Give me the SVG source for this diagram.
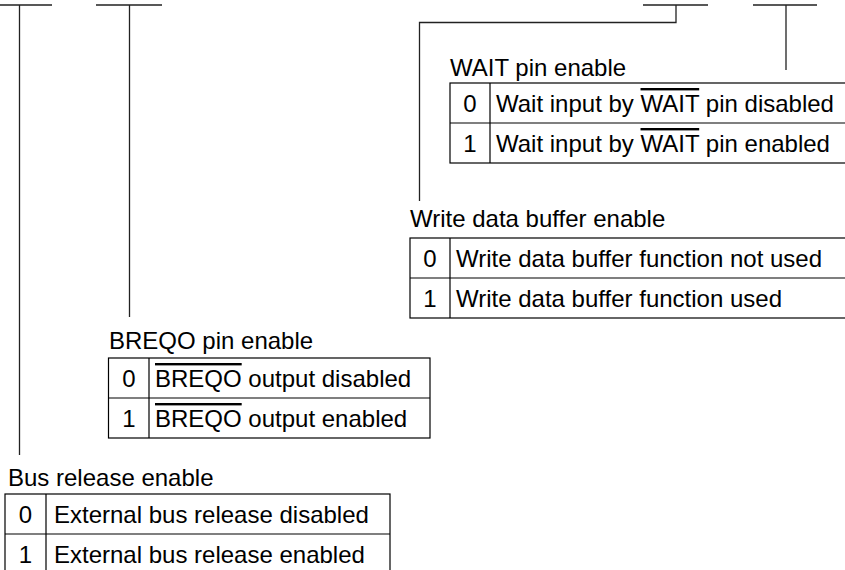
<svg xmlns="http://www.w3.org/2000/svg" width="845" height="570" viewBox="0 0 845 570">
<style>
text{font-family:"Liberation Sans",Arial,sans-serif;font-size:24px;fill:#000}
.n{text-anchor:middle}
.ln{fill:none;stroke:#222;stroke-width:1.3}
.tb{fill:#fff;stroke:#000;stroke-width:1.2}
.ov{text-decoration:overline}
</style>
<rect width="845" height="570" fill="#fff"/>
<g id="connectors">
<path class="ln" d="M0 5H52M19.5 5V455"/>
<path class="ln" d="M96 5H162M129.5 5V317"/>
<path class="ln" d="M643 5H708M676 5V22.5H419.5V201"/>
<path class="ln" d="M753 5H817M786 5V70"/>
</g>
<g id="wait">
<text x="450" y="76">WAIT pin enable</text>
<rect class="tb" x="450" y="83" width="400" height="80"/>
<path class="ln" d="M450 123H850M490 83V163" style="stroke:#000;stroke-width:1.2"/>
<text class="n" x="470" y="112">0</text>
<text x="496" y="112">Wait input by <tspan class="ov">WAIT</tspan> pin disabled</text>
<text class="n" x="470" y="152">1</text>
<text x="496" y="152">Wait input by <tspan class="ov">WAIT</tspan> pin enabled</text>
</g>
<g id="wdb">
<text x="410" y="227">Write data buffer enable</text>
<rect class="tb" x="410" y="238" width="440" height="80"/>
<path class="ln" d="M410 278H850M450 238V318" style="stroke:#000;stroke-width:1.2"/>
<text class="n" x="430" y="267">0</text>
<text x="456" y="267">Write data buffer function not used</text>
<text class="n" x="430" y="307">1</text>
<text x="456" y="307">Write data buffer function used</text>
</g>
<g id="breqo">
<text x="109" y="349">BREQO pin enable</text>
<rect class="tb" x="108.5" y="358" width="321.5" height="80"/>
<path class="ln" d="M108.5 398H430M149 358V438" style="stroke:#000;stroke-width:1.2"/>
<text class="n" x="129" y="387">0</text>
<text x="155" y="387"><tspan class="ov">BREQO</tspan> output disabled</text>
<text class="n" x="129" y="427">1</text>
<text x="155" y="427"><tspan class="ov">BREQO</tspan> output enabled</text>
</g>
<g id="busrel">
<text x="8" y="486">Bus release enable</text>
<rect class="tb" x="5" y="494" width="385" height="82"/>
<path class="ln" d="M5 534H390M46 494V576" style="stroke:#000;stroke-width:1.2"/>
<text class="n" x="25.5" y="523">0</text>
<text x="54" y="523">External bus release disabled</text>
<text class="n" x="25.5" y="563">1</text>
<text x="54" y="563">External bus release enabled</text>
</g>
</svg>
